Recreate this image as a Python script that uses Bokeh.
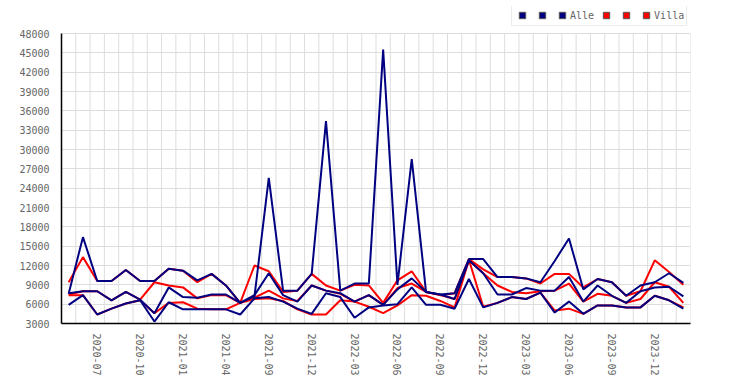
import numpy as np
from bokeh.plotting import figure
from bokeh.models import Range1d, FixedTicker, SingleIntervalTicker, Legend, LegendItem, ColumnDataSource
from bokeh.embed import file_html
from bokeh.resources import INLINE

months = ["2020-05", "2020-06", "2020-07", "2020-08", "2020-09", "2020-10", "2020-11", "2020-12",
          "2021-01", "2021-02", "2021-03", "2021-04", "2021-05", "2021-08",
          "2021-09", "2021-10", "2021-11", "2021-12", "2022-01", "2022-02", "2022-03", "2022-04",
          "2022-05", "2022-06", "2022-07", "2022-08", "2022-09", "2022-10", "2022-11", "2022-12",
          "2023-01", "2023-02", "2023-03", "2023-04", "2023-05", "2023-06", "2023-07", "2023-08",
          "2023-09", "2023-10", "2023-11", "2023-12", "2024-01", "2024-02"]

alle_1 = [7600, 16400, 9600, 9600, 11300, 9600, 9600, 11500, 11200, 9700, 10700, 8900, 6200, 7200,
          25600, 8100, 8100, 10700, 34400, 8100, 9200, 9200, 45500, 9000, 28500, 7900, 7500, 7700,
          13000, 13000, 10200, 10200, 10000, 9400, 12700, 16200, 8300, 9900, 9400, 7300, 8900,
          9400, 10800, 9300]
alle_2 = [7700, 8000, 8000, 6600, 7900, 6700, 4600, 8600, 7100, 7000, 7500, 7500, 6200, 7400,
          10800, 7400, 6400, 8900, 8100, 7700, 6400, 7400, 5900, 8300, 10000, 7900, 7500, 6800,
          12800, 10800, 7500, 7500, 8500, 8100, 8100, 10200, 6400, 8900, 7300, 6200, 8000,
          8600, 8700, 7200]
alle_3 = [5900, 7400, 4400, 5300, 6100, 6600, 3300, 6300, 5200, 5200, 5200, 5200, 4400, 6900,
          7100, 6400, 5300, 4500, 7700, 7100, 3900, 5500, 5800, 6000, 8600, 5900, 5900, 5300,
          9900, 5500, 6200, 7100, 6800, 7800, 4700, 6400, 4500, 5800, 5800, 5500, 5500,
          7300, 6600, 5300]
villa_1 = [9400, 13300, 9600, 9600, 11300, 9600, 9600, 11500, 11200, 9400, 10700, 8900, 6200, 12000,
           11100, 7900, 8100, 10700, 8900, 8100, 9000, 8900, 6200, 9700, 11100, 7900, 7400, 7700,
           13000, 11400, 10200, 10200, 10000, 9200, 10700, 10700, 8600, 9900, 9400, 7300, 8000,
           12800, 11000, 9000]
villa_2 = [7500, 8000, 8000, 6600, 7900, 6700, 9400, 8900, 8600, 6900, 7400, 7400, 6200, 7000,
           8100, 6900, 6500, 8900, 8100, 7600, 6400, 7400, 5900, 8500, 9200, 7900, 7400, 6800,
           12800, 10800, 8900, 7900, 7700, 8000, 8100, 9200, 6400, 7600, 7300, 6200, 6800,
           9400, 8700, 6200]
villa_3 = [7400, 7400, 4400, 5300, 6100, 6600, 4600, 6200, 6300, 5300, 5200, 5200, 6200, 6800,
           6900, 6500, 5200, 4400, 4400, 6600, 6400, 5600, 4600, 5800, 7400, 7300, 6500, 5500,
           12900, 5600, 6200, 7100, 6800, 7800, 5000, 5300, 4500, 5800, 5800, 5500, 5500,
           7300, 6600, 5500]

y_ticks_step = 3000
y_min, y_max = 3000, 48000

NAVY = "#000080"
RED = "#ff0000"
GRID = "#dddddd"
FONT = "DejaVu Sans Mono"

n = len(months)
xs = list(range(n))

# frame extends 27px above the top tick to leave room for the legend
plot_px = 290
extra_px = 27
y_top = y_max + (y_max - y_min) * extra_px / plot_px

p = figure(output_backend="svg", toolbar_location=None,
           width=740, height=375, frame_width=629, frame_height=plot_px + extra_px,
           x_range=Range1d(-0.5, n - 0.5), y_range=Range1d(y_min, y_top),
           min_border_left=61, min_border_right=50, min_border_top=6, min_border_bottom=52)
p.outline_line_color = None
p.background_fill_color = "white"

for ax in (p.xaxis[0], p.yaxis[0]):
    ax.axis_line_color = "black"
    ax.axis_line_width = 1.5
    ax.major_tick_line_color = None
    ax.minor_tick_line_color = None
    ax.major_label_text_font = FONT
    ax.major_label_text_font_size = "10px"
    ax.major_label_text_color = "#666666"

p.xaxis[0].major_label_standoff = 4
p.yaxis[0].major_label_standoff = 6

label_idx = list(range(2, n, 3))
p.xaxis[0].ticker = FixedTicker(ticks=label_idx)
p.xaxis[0].major_label_overrides = {i: months[i] for i in label_idx}
p.xaxis[0].major_label_orientation = "vertical"
p.yaxis[0].ticker = SingleIntervalTicker(interval=y_ticks_step)
p.yaxis[0].bounds = (y_min, y_max)

p.xgrid[0].visible = False
p.ygrid[0].grid_line_color = GRID
p.ygrid[0].bounds = (y_min, y_max)

# vertical grid lines at category boundaries
bnd = [i - 0.5 for i in range(1, n + 1)]
p.segment(x0=bnd, x1=bnd, y0=[y_min] * len(bnd), y1=[y_max] * len(bnd),
          line_color=GRID, line_width=1, level="underlay")

src = ColumnDataSource(dict(x=xs, a1=alle_1, a2=alle_2, a3=alle_3, v1=villa_1, v2=villa_2, v3=villa_3))

for col in ("v3", "v2", "v1"):
    p.line("x", col, source=src, line_color=RED, line_width=2)
for col in ("a3", "a2", "a1"):
    p.line("x", col, source=src, line_color=NAVY, line_width=2)

hidden = ColumnDataSource(dict(x=np.array([np.nan]), y=np.array([np.nan])))
items = []
for color, labels in ((NAVY, ["", "", "Alle"]), (RED, ["", "", "Villa"])):
    for lab in labels:
        r = p.scatter("x", "y", source=hidden, marker="square", size=7,
                      fill_color=color, line_color="#555555", line_width=1)
        items.append(LegendItem(label=lab, renderers=[r]))

legend = Legend(items=items, orientation="horizontal", location=(450, 297),
                glyph_width=16, glyph_height=16, label_standoff=0, spacing=4, padding=2,
                margin=0, label_width=0, label_text_font=FONT, label_text_font_size="10px",
                label_text_color="#666666", label_height=16,
                border_line_color="#d8d8d8", border_line_width=1,
                background_fill_color="white", background_fill_alpha=1)
p.add_layout(legend, "center")

open("out.html", "w").write(file_html(p, INLINE))
